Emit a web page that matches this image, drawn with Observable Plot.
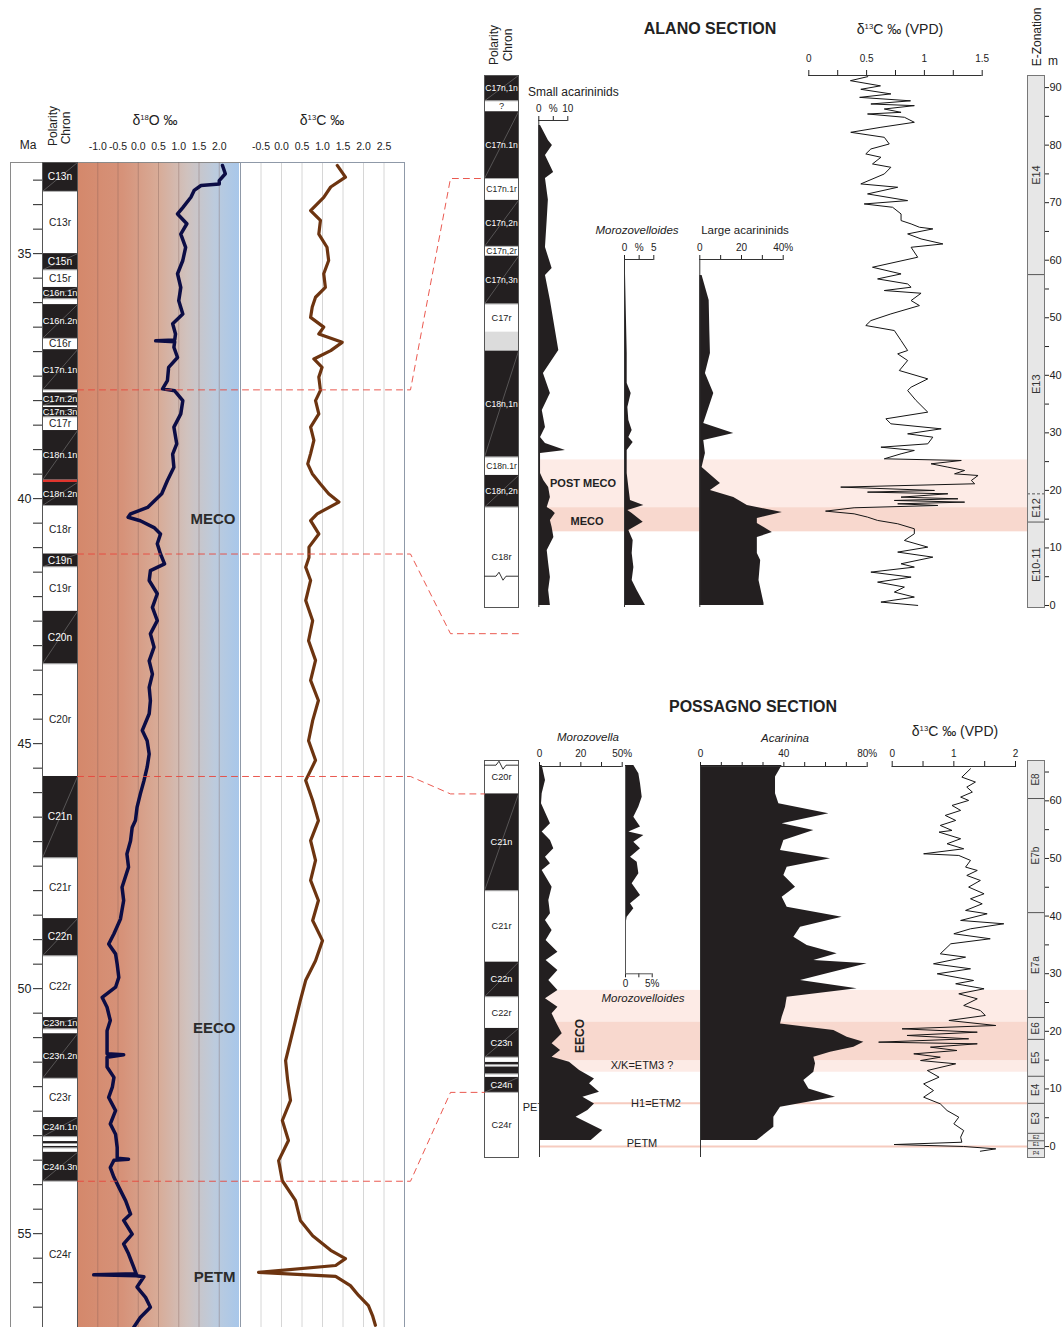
<!DOCTYPE html>
<html>
<head>
<meta charset="utf-8">
<script src="https://cdn.jsdelivr.net/npm/d3@7"></script>
<script src="https://cdn.jsdelivr.net/npm/@observablehq/plot@0.6"></script>
<style>
  body { margin: 0; background: #fff; }
  #fig { position: relative; width: 1062px; height: 1327px; overflow: hidden;
         font-family: "Liberation Sans", Arial, Helvetica, sans-serif; color: #222; }
  #fig > svg { position: absolute; left: 0; top: 0; }
  .lbl { position: absolute; white-space: nowrap; line-height: 1; color: #222; }
  .lbl sup { font-size: 0.55em; vertical-align: 0.7em; }
  #o18bg { position: absolute; left: 77px; top: 162px; width: 162px; height: 1180px;
           background: linear-gradient(to right, #d4886b 0%, #d69279 28%, #d8ab97 50%, #d0c2be 68%, #bccbdd 85%, #a8c7ea 100%); }
</style>
</head>
<body>
<div id="fig"><div id="o18bg"></div></div>
<script>
// ------------------------------------------------------------------
// Composite chart: global Eocene isotope stack against age (left) and
// the Alano and Possagno sections against stratigraphic height (right).
// ------------------------------------------------------------------

// ---------- Global stack (age in Ma) ----------
const leftChrons = [
  {top: 33.14, base: 33.73, name: "C13n", kind: "n"},
  {top: 33.73, base: 35.00, name: "C13r", kind: "r"},
  {top: 35.00, base: 35.33, name: "C15n", kind: "n"},
  {top: 35.33, base: 35.69, name: "C15r", kind: "r"},
  {top: 35.69, base: 35.92, name: "C16n.1n", kind: "n"},
  {top: 35.92, base: 36.04, name: "", kind: "r"},
  {top: 36.04, base: 36.73, name: "C16n.2n", kind: "n"},
  {top: 36.73, base: 36.96, name: "C16r", kind: "r"},
  {top: 36.96, base: 37.78, name: "C17n.1n", kind: "n"},
  {top: 37.78, base: 37.84, name: "", kind: "r"},
  {top: 37.84, base: 38.10, name: "C17n.2n", kind: "n"},
  {top: 38.10, base: 38.14, name: "", kind: "r"},
  {top: 38.14, base: 38.33, name: "C17n.3n", kind: "n"},
  {top: 38.33, base: 38.61, name: "C17r", kind: "r"},
  {top: 38.61, base: 39.62, name: "C18n.1n", kind: "n"},
  {top: 39.62, base: 39.67, name: "", kind: "red"},
  {top: 39.67, base: 40.14, name: "C18n.2n", kind: "n"},
  {top: 40.14, base: 41.13, name: "C18r", kind: "r"},
  {top: 41.13, base: 41.39, name: "C19n", kind: "n"},
  {top: 41.39, base: 42.30, name: "C19r", kind: "r"},
  {top: 42.30, base: 43.37, name: "C20n", kind: "n"},
  {top: 43.37, base: 45.67, name: "C20r", kind: "r"},
  {top: 45.67, base: 47.33, name: "C21n", kind: "n"},
  {top: 47.33, base: 48.57, name: "C21r", kind: "r"},
  {top: 48.57, base: 49.33, name: "C22n", kind: "n"},
  {top: 49.33, base: 50.59, name: "C22r", kind: "r"},
  {top: 50.59, base: 50.82, name: "C23n.1n", kind: "n"},
  {top: 50.82, base: 50.92, name: "", kind: "r"},
  {top: 50.92, base: 51.83, name: "C23n.2n", kind: "n"},
  {top: 51.83, base: 52.63, name: "C23r", kind: "r"},
  {top: 52.63, base: 53.02, name: "C24n.1n", kind: "n"},
  {top: 53.02, base: 53.12, name: "", kind: "r"},
  {top: 53.12, base: 53.16, name: "", kind: "n"},
  {top: 53.16, base: 53.22, name: "", kind: "r"},
  {top: 53.22, base: 53.25, name: "", kind: "n"},
  {top: 53.25, base: 53.34, name: "", kind: "r"},
  {top: 53.34, base: 53.93, name: "C24n.3n", kind: "n"},
  {top: 53.93, base: 56.94, name: "C24r", kind: "r"}
];

// benthic δ18O (‰) : [age Ma, value]
const d18O = [
  [33.20,2.08],[33.37,2.15],[33.51,2.0],[33.58,2.0],[33.61,1.55],[33.71,1.38],[33.85,1.3],[34.06,1.1],
  [34.19,0.97],[34.39,1.2],[34.60,1.05],[34.87,1.17],[35.14,1.1],[35.41,0.97],[35.69,1.05],[35.96,1.0],
  [36.23,1.1],[36.43,0.85],[36.64,0.92],[36.76,0.9],[36.78,0.43],[36.80,0.9],[36.91,0.88],[37.12,0.97],
  [37.32,0.75],[37.59,0.72],[37.76,0.6],[37.80,0.9],[38.0,1.1],[38.27,1.05],[38.54,0.88],[38.88,0.95],
  [39.09,0.85],[39.36,0.88],[39.63,0.72],[39.90,0.58],[40.18,0.23],[40.31,-0.19],[40.38,-0.25],[40.45,0.05],
  [40.59,0.39],[40.72,0.55],[40.92,0.47],[41.13,0.55],[41.33,0.65],[41.47,0.3],[41.67,0.27],[41.94,0.47],
  [42.22,0.35],[42.49,0.47],[42.76,0.3],[43.03,0.39],[43.31,0.27],[43.58,0.35],[43.85,0.27],[44.12,0.3],
  [44.39,0.27],[44.73,0.1],[44.94,0.22],[45.21,0.27],[45.48,0.22],[45.76,0.14],[46.03,0.05],[46.30,-0.03],
  [46.57,-0.07],[46.71,-0.15],[46.98,-0.19],[47.25,-0.28],[47.52,-0.24],[47.93,-0.4],[48.20,-0.36],[48.58,-0.44],
  [48.88,-0.6],[49.09,-0.73],[49.29,-0.56],[49.50,-0.52],[49.77,-0.48],[49.97,-0.56],[50.18,-0.89],[50.38,-0.77],
  [50.65,-0.69],[50.86,-0.77],[51.13,-0.77],[51.33,-0.77],[51.35,-0.36],[51.40,-0.77],[51.60,-0.77],[51.81,-0.6],
  [52.01,-0.64],[52.22,-0.73],[52.49,-0.56],[52.76,-0.69],[52.97,-0.56],[53.24,-0.52],[53.46,-0.52],[53.48,-0.24],
  [53.50,-0.6],[53.65,-0.69],[53.85,-0.6],[54.05,-0.48],[54.33,-0.31],[54.60,-0.19],[54.73,-0.36],[55.01,-0.15],
  [55.21,-0.36],[55.41,-0.24],[55.69,-0.11],[55.82,-0.05],[55.84,-1.1],[55.86,-0.05],[55.88,0.14],[56.09,-0.03],
  [56.30,0.18],[56.50,0.3],[56.71,0.05],[56.91,-0.11]
];

// benthic δ13C (‰) : [age Ma, value]
const d13C = [
  [33.20,1.36],[33.44,1.56],[33.64,1.20],[33.85,1.03],[34.12,0.71],[34.32,0.95],[34.60,0.91],[34.87,1.11],
  [35.14,1.15],[35.41,1.03],[35.69,1.07],[35.89,0.83],[36.09,0.75],[36.30,0.71],[36.50,1.03],[36.64,0.91],
  [36.81,1.48],[36.98,1.20],[37.15,0.79],[37.32,0.99],[37.52,0.91],[37.79,0.95],[38.00,0.83],[38.27,0.91],
  [38.54,0.71],[38.81,0.79],[39.08,0.71],[39.29,0.64],[39.49,0.75],[39.70,0.95],[39.90,1.15],[40.07,1.40],
  [40.31,0.87],[40.45,0.71],[40.72,0.91],[40.99,0.67],[41.20,0.67],[41.40,0.59],[41.67,0.71],[42.08,0.59],
  [42.49,0.76],[42.90,0.66],[43.30,0.83],[43.71,0.71],[44.12,0.90],[44.53,0.76],[44.94,0.66],[45.34,0.83],
  [45.75,0.59],[46.16,0.76],[46.57,0.90],[46.98,0.71],[47.38,0.83],[47.79,0.71],[48.20,0.90],[48.61,0.76],
  [49.02,1.00],[49.43,0.83],[49.83,0.59],[50.24,0.46],[50.65,0.34],[51.06,0.22],[51.47,0.10],[51.87,0.15],
  [52.28,0.22],[52.69,0.02],[53.10,0.17],[53.51,-0.07],[53.92,0.02],[54.32,0.34],[54.73,0.46],[55.04,0.76],
  [55.34,1.20],[55.51,1.56],[55.65,1.32],[55.79,-0.56],[55.87,1.32],[56.06,1.68],[56.26,1.88],[56.47,2.12],
  [56.67,2.22],[56.87,2.29]
];

const climateEvents = [
  {name: "MECO", age: 40.41},
  {name: "EECO", age: 50.80},
  {name: "PETM", age: 55.88}
];

const o18Ticks = [-1, -0.5, 0, 0.5, 1, 1.5, 2];
const c13Ticks = [-0.5, 0, 0.5, 1, 1.5, 2, 2.5];

// ---------- Alano section (height in m) ----------
const alanoChrons = [
  {top: 92.1, base: 87.7, name: "C17n,1n", kind: "n"},
  {top: 87.7, base: 85.8, name: "?", kind: "r"},
  {top: 85.8, base: 74.2, name: "C17n.1n", kind: "n"},
  {top: 74.2, base: 70.4, name: "C17n.1r", kind: "r"},
  {top: 70.4, base: 62.4, name: "C17n,2n", kind: "n"},
  {top: 62.4, base: 60.7, name: "C17n,2r", kind: "r"},
  {top: 60.7, base: 52.4, name: "C17n,3n", kind: "n"},
  {top: 52.4, base: 47.5, name: "C17r", kind: "r"},
  {top: 47.5, base: 44.2, name: "", kind: "gap"},
  {top: 44.2, base: 25.8, name: "C18n,1n", kind: "n"},
  {top: 25.8, base: 22.6, name: "C18n.1r", kind: "r"},
  {top: 22.6, base: 17.1, name: "C18n,2n", kind: "n"},
  {top: 17.1, base: -0.35, name: "C18r", kind: "r"}
];

// small acarininids (%) : [m, value]
const alanoSmallAcar = [
  [83.39,0.6],[80.79,3.3],[79.92,4.7],[78.18,2.3],[75.23,5.1],[74.18,2.3],[70.47,3.3],[67.01,2.9],
  [62.20,2.3],[58.55,4.6],[57.33,2.3],[52.99,4.0],[44.30,6.9],[40.31,1.6],[36.83,4.0],[33.88,1.2],
  [30.92,2.3],[29.19,0.6],[28.14,2.3],[26.93,9.2],[26.41,0.6],[25.19,0.6],[22.93,0.6],[21.72,1.7],
  [20.50,3.4],[18.76,4.0],[17.03,2.9],[16.50,4.6],[15.98,5.7],[14.77,4.0],[13.55,4.6],[11.81,5.2],
  [9.56,2.9],[7.30,3.4],[4.86,4.0],[2.61,3.4],[0.0,4.0]
];

// Morozovelloides (%) : [m, value]
const alanoMorozovelloides = [
  [57.63,0.17],[49.51,0.34],[43.78,0.46],[38.57,0.46],[36.83,1.14],[34.40,0.57],[32.14,0.74],[30.40,1.31],
  [29.19,0.74],[28.32,1.48],[26.93,0.46],[25.19,0.46],[22.93,0.46],[20.50,0.74],[18.24,1.02],[17.37,3.3],
  [16.50,0.57],[15.98,1.31],[14.47,3.19],[13.03,0.74],[11.29,1.48],[9.03,1.31],[6.60,1.6],[4.34,1.31],
  [2.61,2.16],[0.0,3.58]
];

// large acarininids (%) : [m, value]
const alanoLargeAcar = [
  [57.33,1.1],[52.99,4.5],[47.78,4.8],[43.78,5.1],[40.31,2.7],[36.83,6.7],[33.36,3.5],[31.62,1.9],
  [29.88,16.3],[28.67,1.9],[26.41,2.7],[23.97,1.1],[21.20,9.9],[19.98,5.1],[18.76,16.3],[17.37,22.8],
  [16.16,39.6],[15.11,27.6],[14.25,27.6],[12.68,34.8],[11.81,27.6],[9.03,27.6],[7.82,29.2],[4.34,28.4],
  [0.35,30.8],[0.0,30.8]
];

// bulk δ13C (‰ VPDB) : [m, value]
const alanoD13C = [
  [91.9,0.51],[91.2,0.36],[90.3,0.62],[89.7,0.45],[88.9,0.71],[88.3,0.44],[87.7,0.88],[87.15,0.537],
  [86.86,0.913],[86.28,0.653],[85.70,0.798],[85.41,0.508],[84.84,0.827],[83.97,0.913],[83.10,0.624],[82.23,0.363],
  [81.36,0.653],[80.20,0.696],[79.33,0.537],[78.47,0.493],[77.89,0.624],[76.73,0.551],[76.15,0.710],[74.99,0.653],
  [73.26,0.450],[72.68,0.769],[71.52,0.508],[70.36,0.855],[69.78,0.479],[69.20,0.725],[68.04,0.798],[66.89,0.798],
  [66.31,0.885],[65.73,0.957],[65.44,1.073],[64.57,0.855],[63.70,0.971],[62.83,1.160],[62.25,0.885],[60.52,0.942],
  [58.78,0.551],[57.62,0.798],[56.75,0.595],[55.88,0.855],[55.31,0.885],[54.73,0.653],[54.26,0.971],[52.99,0.885],
  [52.12,0.957],[50.67,0.710],[49.51,0.537],[48.65,0.493],[47.78,0.740],[46.04,0.798],[44.31,0.855],[43.73,0.769],
  [42.57,0.855],[40.83,0.783],[39.38,1.029],[37.94,0.885],[37.36,0.855],[35.62,0.928],[33.60,1.029],[32.44,0.667],
  [31.57,0.710],[30.70,1.145],[29.83,0.855],[29.25,1.073],[28.09,1.029],[27.51,0.624],[26.94,0.913],[26.36,0.798],
  [25.49,0.653],[25.20,1.319],[24.62,1.058],[24.04,1.203],[23.46,1.348],[22.88,1.261],[22.59,1.464],[21.72,1.406],
  [21.15,1.435],[20.57,0.276],[19.99,1.087],[19.70,0.508],[19.41,1.203],[18.83,0.798],[18.54,1.290],[18.25,0.740],
  [17.96,1.348],[17.67,0.769],[17.38,1.116],[16.98,0.392],[16.40,0.145],[15.93,0.392],[15.36,0.508],[14.78,0.595],
  [14.20,0.769],[13.33,0.913],[12.46,0.913],[11.30,0.827],[10.14,1.029],[9.28,0.769],[8.40,1.073],[7.25,0.798],
  [6.67,0.913],[5.80,0.537],[4.93,0.885],[4.06,0.595],[3.20,0.827],[2.33,0.740],[1.46,0.913],[0.59,0.624],
  [0.01,0.942]
];

const alanoZones = [
  {top: 92.1, base: 57.5, name: "E14"},
  {top: 57.5, base: 19.4, name: "E13"},
  {top: 19.4, base: 14.5, name: "E12"},
  {top: 14.5, base: -0.35, name: "E10-11"}
];
const alanoZoneLimits = [{depth: 57.5, dashed: false}, {depth: 19.4, dashed: true}, {depth: 14.5, dashed: false}];

const alanoBands = [
  {name: "POST MECO", top: 25.3, base: 17.0, tone: "light"},
  {name: "MECO", top: 17.0, base: 12.8, tone: "dark"}
];

// ---------- Possagno section (height in m) ----------
const possChrons = [
  {top: 67.0, base: 61.2, name: "C20r", kind: "r"},
  {top: 61.2, base: 44.4, name: "C21n", kind: "n"},
  {top: 44.4, base: 32.0, name: "C21r", kind: "r"},
  {top: 32.0, base: 26.0, name: "C22n", kind: "n"},
  {top: 26.0, base: 20.5, name: "C22r", kind: "r"},
  {top: 20.5, base: 15.5, name: "C23n", kind: "n"},
  {top: 15.5, base: 14.6, name: "", kind: "r"},
  {top: 14.6, base: 14.2, name: "", kind: "n"},
  {top: 14.2, base: 13.8, name: "", kind: "r"},
  {top: 13.8, base: 12.6, name: "", kind: "n"},
  {top: 12.6, base: 12.0, name: "", kind: "r"},
  {top: 12.0, base: 9.4, name: "C24n", kind: "n"},
  {top: 9.4, base: -1.9, name: "C24r", kind: "r"}
];

// Morozovella (%) : [m, value]
const possMorozovella = [
  [66.14,1.3],[63.54,2.9],[61.22,1.3],[59.49,0.97],[56.02,5.3],[54.57,1.3],[53.12,5.3],[51.67,6.9],
  [50.23,2.9],[49.07,5.3],[47.91,1.3],[45.02,6.1],[42.70,4.5],[40.39,5.3],[39.23,2.9],[37.50,6.1],
  [35.76,3.2],[33.74,8.9],[32.29,3.2],[30.55,8.9],[28.82,4.5],[27.08,8.9],[25.63,2.9],[24.19,8.9],
  [23.03,6.1],[21.29,8.5],[19.56,11.0],[17.82,6.1],[16.66,10.2],[15.50,6.1],[14.64,14.5],[13.19,19.4],
  [11.74,26.6],[10.88,24.2],[9.43,29.0],[8.56,21.0],[7.40,26.6],[6.25,23.4],[5.09,17.7],[2.77,30.6],
  [1.04,25.0]
];

// Morozovelloides (%) : [m, value]
const possMorozovelloides = [
  [66.14,1.56],[64.70,2.50],[62.96,2.81],[60.64,3.13],[58.91,2.50],[57.17,1.56],[55.44,2.81],[54.57,0.63],
  [53.99,3.44],[52.83,1.56],[51.67,2.81],[50.23,0.94],[49.36,2.19],[47.33,2.50],[45.60,1.25],[43.57,2.81],
  [42.13,0.94],[41.26,1.56],[39.81,0.31],[38.08,0]
];

// Acarinina (%) : [m, value]
const possAcarinina = [
  [66.14,39.2],[64.12,36.0],[61.22,36.0],[59.49,37.6],[57.75,61.6],[56.02,39.2],[54.86,54.4],[53.12,40.0],
  [51.39,38.4],[49.94,62.4],[48.49,41.6],[47.04,40.0],[45.02,45.6],[43.28,39.2],[41.55,41.6],[39.81,68.0],
  [38.08,48.0],[36.34,44.8],[34.89,51.2],[33.45,65.6],[32.29,54.4],[31.71,80.0],[29.97,60.8],[28.82,48.0],
  [27.37,75.2],[25.92,41.6],[24.19,40.8],[22.45,39.2],[21.29,38.4],[20.13,64.0],[18.98,70.4],[18.11,78.4],
  [17.24,73.6],[16.37,62.4],[15.50,54.4],[14.35,55.2],[12.90,54.4],[11.45,49.6],[10.01,52.0],[8.56,64.8],
  [6.83,38.4],[5.09,35.2],[3.36,35.2],[1.04,27.2]
];

// bulk δ13C (‰ VPDB) : [m, value]
const possD13C = [
  [65.57,1.27],[64.12,1.13],[63.26,1.35],[62.39,1.21],[61.52,1.30],[60.65,1.11],[60.07,1.24],[59.20,0.97],
  [58.34,1.11],[57.47,0.86],[56.60,1.03],[55.73,0.78],[54.86,0.97],[54.57,0.76],[53.42,1.11],[52.55,0.89],
  [51.68,1.16],[50.81,0.51],[50.52,1.08],[49.66,1.27],[48.50,1.19],[47.92,1.38],[47.05,1.21],[46.18,1.43],
  [45.03,1.24],[43.87,1.49],[43.00,1.27],[42.13,1.46],[40.98,1.19],[40.40,1.54],[39.24,1.11],[38.66,1.81],
  [37.79,1.27],[36.93,1.00],[36.06,1.59],[35.19,0.95],[33.45,0.78],[32.87,1.19],[31.72,0.67],[30.85,1.27],
  [29.98,0.73],[28.82,1.32],[28.25,1.03],[27.38,1.49],[26.51,1.08],[25.64,1.38],[24.48,1.16],[23.61,1.43],
  [22.75,1.51],[21.88,0.92],[21.01,1.68],[20.43,0.16],[19.85,1.38],[19.28,0.24],[18.70,1.24],[18.12,-0.22],
  [17.83,1.38],[17.25,0.62],[16.67,1.05],[16.09,0.35],[15.51,0.78],[14.93,0.46],[14.36,1.03],[13.20,0.57],
  [12.04,0.76],[10.88,0.51],[9.72,0.67],[8.57,0.51],[7.41,0.78],[6.25,0.89],[5.10,1.08],[3.94,1.00],
  [2.78,1.16],[1.63,1.11],[0.75,1.13],[0.35,0.03],[0.01,1.16],[-0.40,1.68],[-0.81,1.43]
];

const possZones = [
  {top: 67.0, base: 60.4, name: "E8"},
  {top: 60.4, base: 40.6, name: "E7b"},
  {top: 40.6, base: 22.4, name: "E7a"},
  {top: 22.4, base: 18.6, name: "E6"},
  {top: 18.6, base: 12.2, name: "E5"},
  {top: 12.2, base: 7.5, name: "E4"},
  {top: 7.5, base: 2.3, name: "E3"},
  {top: 2.3, base: 1.0, name: "E2"},
  {top: 1.0, base: -0.35, name: "E1"},
  {top: -0.35, base: -1.9, name: "P4"}
];

const possBands = [
  {top: 27.1, base: 21.6, tone: "light"},
  {top: 21.6, base: 14.9, tone: "dark"},
  {top: 14.9, base: 12.9, tone: "light"}
];
const possLevels = [{name: "H1=ETM2", depth: 7.5}, {name: "PETM", depth: 0}];

// chron boundaries tied between the age model and the two sections
const tieLines = [
  {age: 37.78, section: "alano", depth: 74.2},
  {age: 41.13, section: "alano", depth: -4.9},
  {age: 45.67, section: "possagno", depth: 61.2},
  {age: 53.93, section: "possagno", depth: 9.4}
];

// ------------------------------------------------------------------
const W = 1062, H = 1327;
const FONT = '"Liberation Sans", Arial, Helvetica, sans-serif';
const fig = document.getElementById("fig");
const asObj = (rows) => rows.map(([d, v]) => ({d, v}));

function layer(opts) {
  const {style, ...rest} = opts;
  const svg = Plot.plot({
    width: W, height: H,
    ...rest,
    style: {background: "transparent", overflow: "visible", fontFamily: FONT, fontSize: "10px", color: "#222", ...(style || {})}
  });
  fig.appendChild(svg);
  return svg;
}

function label(html, x, y, o = {}) {
  const el = document.createElement("div");
  el.className = "lbl";
  el.innerHTML = html;
  const anchor = o.anchor === "start" ? "translate(0,-50%)" : "translate(-50%,-50%)";
  el.style.left = x + "px";
  el.style.top = y + "px";
  el.style.transform = anchor + (o.rotate ? ` rotate(${o.rotate}deg)` : "");
  el.style.fontSize = (o.size || 12) + "px";
  if (o.bold) el.style.fontWeight = "bold";
  if (o.italic) el.style.fontStyle = "italic";
  if (o.color) el.style.color = o.color;
  fig.appendChild(el);
  return el;
}

// vertical scales shared by every panel of a column
const ageY = {domain: [33.14, 57.18], range: [162, 1340]};
const alanoY = {domain: [-0.35, 92.1], range: [607, 75]};
const possY = {domain: [-1.9, 67.0], range: [1157, 760]};
const ageScale = d3.scaleLinear(ageY.domain, ageY.range);
const alanoScale = d3.scaleLinear(alanoY.domain, alanoY.range);
const possScale = d3.scaleLinear(possY.domain, possY.range);

const FILL = "#231f20";
const PINK_LIGHT = "#fdebe6", PINK_DARK = "#f8d8ce", PINK_LINE = "#f6cbbf";

// label hidden behind the Morozovella profile
label("PETM", 538, 1107, {size: 11});

// ---------- shaded intervals behind the section curves ----------
layer({
  marginLeft: 540, marginRight: W - 1027, marginTop: 75, marginBottom: H - 607,
  x: {domain: [0, 1], axis: null}, y: {...alanoY, axis: null},
  marks: [
    Plot.rect(alanoBands.filter(d => d.tone === "light"), {y1: "top", y2: "base", fill: PINK_LIGHT}),
    Plot.rect(alanoBands.filter(d => d.tone === "dark"), {y1: "top", y2: "base", fill: PINK_DARK})
  ]
});
layer({
  marginLeft: 540, marginRight: W - 1027, marginTop: 760, marginBottom: H - 1157,
  x: {domain: [0, 1], axis: null}, y: {...possY, axis: null},
  marks: [
    Plot.rect(possBands.filter(d => d.tone === "light"), {y1: "top", y2: "base", fill: PINK_LIGHT}),
    Plot.rect(possBands.filter(d => d.tone === "dark"), {y1: "top", y2: "base", fill: PINK_DARK}),
    Plot.ruleY(possLevels, {y: "depth", stroke: PINK_LINE, strokeWidth: 2})
  ]
});

// ---------- global stack ----------
const leftBase = {height: 1340, marginTop: 162, marginBottom: 0};

// outer box
layer({
  ...leftBase, marginLeft: 10, marginRight: W - 404,
  x: {domain: [0, 1], axis: null}, y: {...ageY, axis: null},
  marks: [Plot.frame({stroke: "#8a8a8a"})]
});

// δ18O
layer({
  ...leftBase, marginLeft: 77, marginRight: W - 239,
  style: {fontSize: "10.5px"},
  x: {domain: [-1.5, 2.5], axis: "top", ticks: o18Ticks, tickFormat: d => d.toFixed(1), tickSize: 0, tickPadding: 13, label: null},
  y: {...ageY, axis: null},
  marks: [
    Plot.ruleX(o18Ticks, {stroke: "#7a5a50", strokeOpacity: 0.35}),
    Plot.line(asObj(d18O), {x: "v", y: "d", stroke: "#0c0d45", strokeWidth: 3.5, strokeLinejoin: "round"}),
    Plot.text(climateEvents, {y: "age", text: "name", frameAnchor: "right", textAnchor: "end", dx: -4, fontSize: 15, fontWeight: "bold", fill: "#2b2b2b"})
  ]
});

// δ13C
layer({
  ...leftBase, marginLeft: 240, marginRight: W - 404,
  style: {fontSize: "10.5px"},
  x: {domain: [-1, 3], axis: "top", ticks: c13Ticks, tickFormat: d => d.toFixed(1), tickSize: 0, tickPadding: 13, label: null},
  y: {...ageY, axis: null},
  marks: [
    Plot.ruleX(c13Ticks, {stroke: "#d6d6d6"}),
    Plot.frame({stroke: "#8f99a8"}),
    Plot.line(asObj(d13C), {x: "v", y: "d", stroke: "#6d3410", strokeWidth: 3.2, strokeLinejoin: "round"})
  ]
});

// polarity column with the age axis
function chronMarks(data, fontSize) {
  return [
    Plot.rect(data.filter(d => d.kind === "r"), {x1: 0, x2: 1, y1: "top", y2: "base", fill: "#fff"}),
    Plot.rect(data.filter(d => d.kind === "gap"), {x1: 0, x2: 1, y1: "top", y2: "base", fill: "#dcdcdc"}),
    Plot.rect(data.filter(d => d.kind === "red"), {x1: 0, x2: 1, y1: "top", y2: "base", fill: "#e3342c"}),
    Plot.rect(data.filter(d => d.kind === "n"), {x1: 0, x2: 1, y1: "top", y2: "base", fill: FILL}),
    Plot.link(data.filter(d => d.kind === "n" && d.name), {x1: 0, y1: "base", x2: 1, y2: "top", stroke: "#8a8a8a", strokeWidth: 0.5}),
    Plot.ruleY(data.filter(d => d.kind === "r"), {y: "top", stroke: "#555", strokeWidth: 0.5}),
    Plot.text(data.filter(d => d.kind === "n" && d.name), {x: 0.5, y: d => (d.top + d.base) / 2, text: "name", fill: "#fff", fontSize: d => fontSize(d.name)}),
    Plot.text(data.filter(d => d.kind !== "n" && d.name), {x: 0.5, y: d => (d.top + d.base) / 2, text: "name", fill: "#222", fontSize: d => fontSize(d.name)}),
    Plot.frame({stroke: "#555"})
  ];
}

layer({
  ...leftBase, marginLeft: 42, marginRight: W - 77,
  style: {fontSize: "12.5px"},
  x: {domain: [0, 1], axis: null},
  y: {...ageY, axis: "left", ticks: d3.range(33.5, 57.01, 0.5), tickFormat: d => d % 5 === 0 ? d : "", tickSize: 9, tickPadding: 2, label: null},
  marks: chronMarks(leftChrons, n => n.length > 5 ? 9.2 : 10.2)
});

// ---------- Alano section ----------
const alanoChronSvg = layer({
  marginLeft: 484, marginRight: W - 518, marginTop: 75, marginBottom: H - 607,
  x: {domain: [0, 1], axis: null}, y: {...alanoY, axis: null},
  marks: chronMarks(alanoChrons, n => n.length > 5 ? 8.6 : 9.2)
});

function topProfile({left, right, top, bottom, yOpt, scale, domain, ticks, tickFormat, pad = 4, marks}) {
  return layer({
    marginLeft: left, marginRight: W - right, marginTop: top, marginBottom: H - bottom,
    x: {domain, axis: "top", ticks, tickFormat, tickSize: 5, tickPadding: pad, label: null},
    y: {...yOpt, axis: null},
    marks: [
      ...marks,
      Plot.ruleX([domain[0]], {stroke: "#333"}),
      Plot.ruleY([scale.invert(top)], {x1: domain[0], x2: domain[1], stroke: "#333"})
    ]
  });
}

topProfile({
  left: 538.3, right: 567.3, top: 120, bottom: 607, yOpt: alanoY, scale: alanoScale,
  domain: [0, 10], ticks: [0, 5, 10], tickFormat: d => d === 5 ? "%" : d,
  marks: [Plot.areaX(asObj(alanoSmallAcar), {y: "d", x: "v", fill: FILL})]
});
topProfile({
  left: 624, right: 653.3, top: 259, bottom: 607, yOpt: alanoY, scale: alanoScale,
  domain: [0, 5], ticks: [0, 2.5, 5], tickFormat: d => d === 2.5 ? "%" : d,
  marks: [Plot.areaX(asObj(alanoMorozovelloides), {y: "d", x: "v", fill: FILL})]
});
topProfile({
  left: 699.3, right: 782.7, top: 259, bottom: 607, yOpt: alanoY, scale: alanoScale,
  domain: [0, 40], ticks: [0, 10, 20, 30, 40], tickFormat: d => d === 40 ? "40%" : (d % 20 === 0 ? d : ""),
  marks: [Plot.areaX(asObj(alanoLargeAcar), {y: "d", x: "v", fill: FILL})]
});
const alanoIsoTickLabels = ["0", "", "0.5", "", "1", "", "1.5"];
layer({
  marginLeft: 808.3, marginRight: W - 981.7, marginTop: 75, marginBottom: H - 607,
  x: {domain: [0, 1.5], axis: "top", ticks: d3.range(0, 1.51, 0.25), tickFormat: (d, i) => alanoIsoTickLabels[i], tickSize: 6, tickPadding: 8, label: null},
  y: {...alanoY, axis: null},
  marks: [
    Plot.ruleY([alanoScale.invert(75)], {x1: 0, x2: 1.5, stroke: "#333"}),
    Plot.line(asObj(alanoD13C), {x: "v", y: "d", stroke: "#151515", strokeWidth: 1})
  ]
});

function zoneMarks(zones, limits) {
  return [
    Plot.rect(zones, {x1: 0, x2: 1, y1: "top", y2: "base", fill: "#e7e7e7"}),
    Plot.ruleY(limits.filter(d => !d.dashed), {y: "depth", stroke: "#555"}),
    Plot.ruleY(limits.filter(d => d.dashed), {y: "depth", stroke: "#555", strokeDasharray: "3,2"}),
    Plot.frame({stroke: "#777"})
  ];
}

layer({
  marginLeft: 1027, marginRight: W - 1044, marginTop: 75, marginBottom: H - 607,
  style: {fontSize: "11px"},
  x: {domain: [0, 1], axis: null},
  y: {...alanoY, axis: "right", ticks: d3.range(0, 91, 5), tickFormat: d => d % 10 === 0 ? d : "", tickSize: 4, tickPadding: 1, label: null},
  marks: [
    ...zoneMarks(alanoZones, alanoZoneLimits),
    Plot.text(alanoZones, {x: 0.5, y: d => (d.top + d.base) / 2, text: "name", rotate: -90, fontSize: 11, fill: "#333"})
  ]
});

// ---------- Possagno section ----------
const possChronSvg = layer({
  marginLeft: 484, marginRight: W - 518, marginTop: 760, marginBottom: H - 1157,
  x: {domain: [0, 1], axis: null}, y: {...possY, axis: null},
  marks: chronMarks(possChrons, n => 9.2)
});

const morozovellaTicks = [0, 10, 20, 30, 40];
const morozovellaTickLabels = ["0", "", "20", "", "50%"];
topProfile({
  left: 539, right: 621.7, top: 766, bottom: 1157, yOpt: possY, scale: possScale, pad: 5,
  domain: [0, 40], ticks: morozovellaTicks, tickFormat: (d, i) => morozovellaTickLabels[i],
  marks: [Plot.areaX(asObj(possMorozovella), {y: "d", x: "v", fill: FILL})]
});

// Morozovelloides, axis drawn underneath the short record
const morozovelloidesTickLabels = ["0", "", "5%"];
layer({
  marginLeft: 625, marginRight: W - 651.7, marginTop: 766, marginBottom: H - 973.3,
  x: {domain: [0, 5], axis: "bottom", ticks: [0, 2.5, 5], tickFormat: (d, i) => morozovelloidesTickLabels[i], tickSize: 4, tickPadding: 2, label: null},
  y: {...possY, axis: null},
  marks: [
    Plot.areaX(asObj(possMorozovelloides), {y: "d", x: "v", fill: FILL}),
    Plot.ruleX([0], {stroke: "#555"}),
    Plot.ruleY([possScale.invert(973.3)], {x1: 0, x2: 5, stroke: "#555"})
  ]
});

const acarininaTicks = d3.range(0, 81, 10);
topProfile({
  left: 700, right: 866.7, top: 766, bottom: 1157, yOpt: possY, scale: possScale, pad: 5,
  domain: [0, 80], ticks: acarininaTicks, tickFormat: d => d === 80 ? "80%" : (d % 40 === 0 ? d : ""),
  marks: [Plot.areaX(asObj(possAcarinina), {y: "d", x: "v", fill: FILL})]
});

const possIsoTickLabels = ["0", "", "1", "", "2"];
layer({
  marginLeft: 891.7, marginRight: W - 1015, marginTop: 766, marginBottom: H - 1157,
  x: {domain: [0, 2], axis: "top", ticks: [0, 0.5, 1, 1.5, 2], tickFormat: (d, i) => possIsoTickLabels[i], tickSize: 6, tickPadding: 4, label: null},
  y: {...possY, axis: null},
  marks: [
    Plot.ruleY([possScale.invert(766)], {x1: 0, x2: 2, stroke: "#333"}),
    Plot.line(asObj(possD13C), {x: "v", y: "d", stroke: "#151515", strokeWidth: 1})
  ]
});

layer({
  marginLeft: 1027, marginRight: W - 1044, marginTop: 760, marginBottom: H - 1157,
  style: {fontSize: "11px"},
  x: {domain: [0, 1], axis: null},
  y: {...possY, axis: "right", ticks: d3.range(0, 66, 5), tickFormat: d => d % 10 === 0 ? d : "", tickSize: 4, tickPadding: 1, label: null},
  marks: [
    ...zoneMarks(possZones, possZones.slice(1).map(d => ({depth: d.top, dashed: false}))),
    Plot.text(possZones.filter(d => d.top - d.base > 2), {x: 0.5, y: d => (d.top + d.base) / 2, text: "name", rotate: -90, fontSize: 10, fill: "#333"}),
    Plot.text(possZones.filter(d => d.top - d.base <= 2), {x: 0.5, y: d => (d.top + d.base) / 2, text: "name", fontSize: 5.5, fill: "#333"})
  ]
});

// section breaks (zig-zag) drawn on the polarity columns
function breakMark(svg, y) {
  d3.select(svg).append("path")
    .attr("d", `M484,${y}H496l3,-4l4,8l3,-4H518`)
    .attr("fill", "none").attr("stroke", "#333").attr("stroke-width", 1);
}
breakMark(alanoChronSvg, alanoScale(5.0));
breakMark(possChronSvg, possScale(66.1));

// ---------- tie lines between the age model and the sections ----------
const tiePoints = tieLines.flatMap((t, i) => {
  const ya = ageScale(t.age);
  const sc = t.section === "alano" ? alanoScale : possScale;
  const ys = sc(t.depth);
  const inside = t.depth >= sc.domain()[0];
  return [
    {id: i, x: 77, y: ya}, {id: i, x: 410, y: ya},
    {id: i, x: 450, y: ys}, {id: i, x: inside ? 484 : 520, y: ys}
  ];
});
layer({
  margin: 0,
  x: {type: "identity", axis: null}, y: {type: "identity", axis: null},
  marks: [Plot.line(tiePoints, {x: "x", y: "y", z: "id", stroke: "#e8463c", strokeWidth: 0.9, strokeDasharray: "6,5"})]
});

// ---------- titles and headers ----------
label("Ma", 28, 145, {size: 12});
label("Polarity", 53, 126, {size: 12, rotate: -90});
label("Chron", 66, 128, {size: 12, rotate: -90});
label("δ<sup>18</sup>O ‰", 155, 120, {size: 14});
label("δ<sup>13</sup>C ‰", 322, 120, {size: 14});

label("ALANO SECTION", 710, 29, {size: 16, bold: true});
label("Polarity", 494, 45, {size: 12, rotate: -90});
label("Chron", 508, 45, {size: 12, rotate: -90});
label("δ<sup>13</sup>C ‰ (VPD)", 900, 29, {size: 14});
label("E-Zonation", 1037, 37, {size: 12, rotate: -90});
label("m", 1053, 61, {size: 12});
label("Small acarininids", 528, 92, {size: 12, anchor: "start"});
label("Morozovelloides", 637, 231, {size: 11.5, italic: true});
label("Large acarininids", 745, 231, {size: 11.5});
label("POST MECO", 583, 483, {size: 11, bold: true});
label("MECO", 587, 521, {size: 11, bold: true});

label("POSSAGNO SECTION", 753, 707, {size: 16, bold: true});
label("Morozovella", 588, 738, {size: 11.5, italic: true});
label("Acarinina", 785, 739, {size: 11.5, italic: true});
label("δ<sup>13</sup>C ‰ (VPD)", 955, 731, {size: 14});
label("Morozovelloides", 643, 999, {size: 11.5, italic: true});
label("EECO", 580, 1036, {size: 12, bold: true, rotate: -90});
label("X/K=ETM3 ?", 642, 1065, {size: 11});
label("H1=ETM2", 656, 1103, {size: 11});
label("PETM", 642, 1143, {size: 11});
</script>
</body>
</html>
